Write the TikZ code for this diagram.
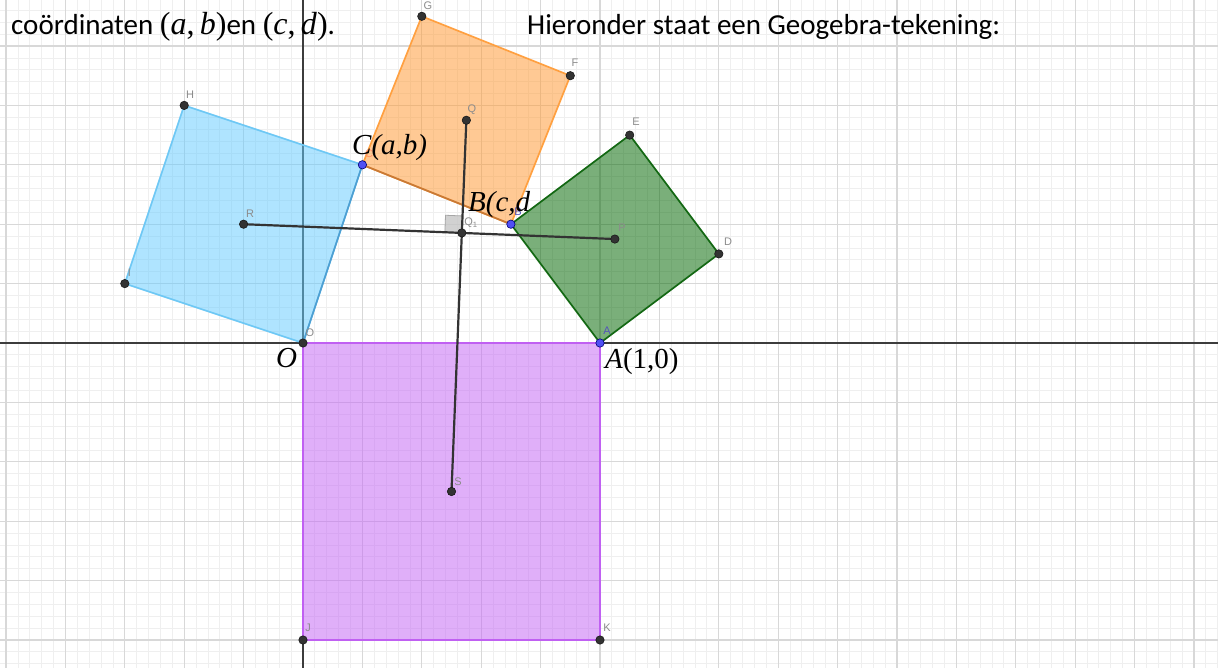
\documentclass[tikz,border=0pt]{standalone}
\usepackage{fontspec}
\setmainfont{Carlito}
\newfontfamily\tms{Liberation Serif}
\newfontfamily\lbf{Liberation Sans}
\usetikzlibrary{calc}
\definecolor{gmaj}{HTML}{D8D8D8}
\definecolor{gmin}{HTML}{EFEFEF}
\definecolor{axc}{HTML}{3C3C3C}
\definecolor{purpF}{HTML}{C466F5}
\definecolor{purpB}{HTML}{C060F2}
\definecolor{bluF}{HTML}{66CCFF}
\definecolor{bluB}{HTML}{6EC8F5}
\definecolor{bluD}{HTML}{4E9FD2}
\definecolor{orF}{HTML}{FF9933}
\definecolor{orB}{HTML}{FFA040}
\definecolor{orD}{HTML}{C97A36}
\definecolor{grF}{HTML}{006600}
\definecolor{grB}{HTML}{136813}
\definecolor{ptc}{HTML}{333333}
\definecolor{bpt}{HTML}{5050F5}
\definecolor{lblc}{HTML}{8C8C8C}
\tikzset{
  minorline/.style={gmin,line width=0.8pt},
  majorline/.style={gmaj,line width=1.3pt},
  axisline/.style={axc,line width=1.3pt},
  sq/.style={line width=1.7pt,fill opacity=0.52,line join=round},
  seg/.style={ptc,line width=2.2pt},
  dot/.style={fill=ptc,draw=black!90,line width=0.6pt},
  bdot/.style={fill=bpt,draw=blue!45!black,line width=0.6pt},
  small/.style={lblc,font=\lbf\fontsize{11}{12}\selectfont,inner sep=0pt},
  big/.style={anchor=base west,inner sep=0pt,font=\tms\fontsize{29}{33}\selectfont},
  head/.style={anchor=base west,inner sep=0pt,font=\fontsize{29}{34}\selectfont}
}
\newcommand{\hm}[1]{{\tms\fontsize{32}{34}\selectfont #1}}
\begin{document}
\begin{tikzpicture}[x=1pt,y=1pt]
\useasboundingbox (0,-668) rectangle (1218,0);
\clip (0,-668) rectangle (1218,0);
\fill[white] (0,-668) rectangle (1218,0);
\begin{scope}[x=297pt,y=297pt,shift={(303pt,-343pt)}]
  % grid
  \foreach \i in {-26,...,78} \draw[minorline] ({\i*0.04},-1.2) -- ({\i*0.04},1.2);
  \foreach \j in {-28,...,29} \draw[minorline] (-1.1,{\j*0.04}) -- (3.2,{\j*0.04});
  \foreach \i in {-5,...,15} \draw[majorline] ({\i*0.2},-1.2) -- ({\i*0.2},1.2);
  \foreach \j in {-5,...,5} \draw[majorline] (-1.1,{\j*0.2}) -- (3.2,{\j*0.2});
  % axes
  \coordinate (xl) at (-1.1,0); \coordinate (xr) at (3.2,0);
  \coordinate (yb) at (0,-1.2); \coordinate (yt) at (0,1.2);
  \draw[axisline] (xl) -- (xr);
  \draw[axisline] (yb) -- (yt);
  % points
  \coordinate (O) at (0,0);
  \coordinate (A) at (1,0);
  \coordinate (B) at (0.7,0.4);
  \coordinate (C) at (0.2,0.6);
  \coordinate (D) at (1.4,0.3);
  \coordinate (E) at (1.1,0.7);
  \coordinate (F) at (0.9,0.9);
  \coordinate (G) at (0.4,1.1);
  \coordinate (H) at (-0.4,0.8);
  \coordinate (I) at (-0.6,0.2);
  \coordinate (J) at (0,-1);
  \coordinate (K) at (1,-1);
  \coordinate (P) at (1.05,0.35);
  \coordinate (Q) at (0.55,0.75);
  \coordinate (R) at (-0.2,0.4);
  \coordinate (S) at (0.5,-0.5);
  \coordinate (Q1) at (intersection of R--P and Q--S);
  % squares
  \filldraw[sq,fill=purpF,draw=purpB] (O) -- (A) -- (K) -- (J) -- cycle;
  \filldraw[sq,fill=bluF,draw=bluB] (C) -- (H) -- (I) -- (O) -- cycle;
  \filldraw[sq,fill=orF,draw=orB] (B) -- (F) -- (G) -- (C) -- cycle;
  \filldraw[sq,fill=grF,draw=grB,fill opacity=0.52] (A) -- (D) -- (E) -- (B) -- cycle;
  \draw[bluD,line width=1.7pt] (C) -- (O);
  \draw[orD,line width=1.7pt] (C) -- (B);
  % right angle mark
  \coordinate (ra1) at ($(Q1)!17pt!(R)$);
  \coordinate (ra2) at ($(Q1)!17pt!(Q)$);
  \coordinate (ra3) at ($(ra1)+(ra2)-(Q1)$);
  \filldraw[fill=gray!45,draw=gray!70,line width=0.8pt,fill opacity=0.8] (Q1) -- (ra1) -- (ra3) -- (ra2) -- cycle;
  % segments
  \draw[seg] (R) -- (P);
  \draw[seg] (Q) -- (S);
  % dots
  \foreach \p in {O,D,E,F,G,H,I,J,K,P,Q,R,S,Q1} \filldraw[dot] (\p) circle[radius=4.2pt];
  \foreach \p in {A,B,C} \filldraw[bdot] (\p) circle[radius=4.2pt];
\end{scope}
% small point labels
\node[small] (lG) at (428,-6) {G};
\node[small] (lF) at (575,-63) {F};
\node[small] (lH) at (190,-95) {H};
\node[small] (lQ) at (472,-110) {Q};
\node[small,text=red!45!orange!60] (lC) at (369,-154) {C};
\node[small] (lR) at (250,-214) {R};
\node[small] (lI) at (129.5,-273) {I};
\node[small] (lO) at (310,-333) {O};
\node[small] (lQ1) at (471,-223) {Q\textsubscript{1}};
\node[small] (lE) at (636,-122) {E};
\node[small] (lP) at (622,-228) {P};
\node[small] (lD) at (728,-242) {D};
\node[small] (lS) at (458,-482) {S};
\node[small] (lJ) at (308,-628) {J};
\node[small] (lK) at (607,-628) {K};
\node[small,text=blue!40!lblc] (lA) at (607,-331) {A};
\node[small,text=blue!40!lblc] (lB) at (518,-212) {B};
% big labels
\node[big] (tC) at (352,-155) {\itshape C(a,b)};
\node[big] (tB) at (468,-212) {\itshape B(c,d};
\node[big] (tO) at (276,-367) {\itshape O};
\node[big] (tA) at (605,-368) {\textit{A}(1,0)};
% header
\node[head] (h1) at (11,-35) {coördinaten \hm{(\textit{a},\,\textit{b})}en \hm{(\textit{c},\,\textit{d})}.};
\node[head] (h2) at (527,-35) {Hieronder staat een Geogebra-tekening:};
\end{tikzpicture}
\end{document}
